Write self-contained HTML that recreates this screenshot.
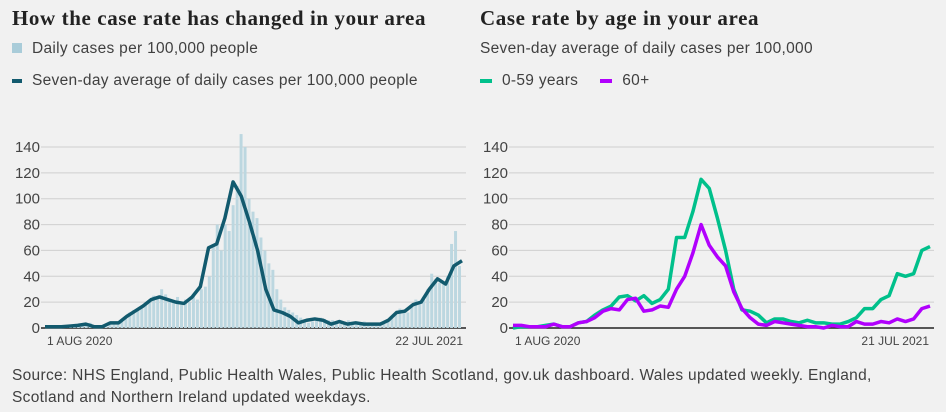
<!DOCTYPE html>
<html><head><meta charset="utf-8"><style>
body{margin:0;background:#f1f1f1;width:946px;height:412px;overflow:hidden;font-family:"Liberation Sans",sans-serif;color:#3f3f42}
.t{position:absolute;font-family:"Liberation Serif",serif;font-weight:bold;font-size:21px;letter-spacing:0.6px;color:#222}
.l{position:absolute;font-size:15.5px;letter-spacing:0.3px;color:#404040}
svg{position:absolute;left:0;top:0}
</style></head><body>
<div class="t" style="left:12px;top:6px">How the case rate has changed in your area</div>
<div class="l" style="left:12px;top:40px"><span style="display:inline-block;width:10px;height:10px;background:#a9ccd9;margin-right:10px"></span>Daily cases per 100,000 people</div>
<div class="l" style="left:12px;top:72px"><span style="display:inline-block;width:10px;height:4px;background:#125a6e;margin-right:10px;vertical-align:middle"></span>Seven-day average of daily cases per 100,000 people</div>
<div class="t" style="left:480px;top:6px">Case rate by age in your area</div>
<div class="l" style="left:480px;top:40px">Seven-day average of daily cases per 100,000</div>
<div class="l" style="left:480px;top:72px"><span style="display:inline-block;width:12px;height:4px;background:#00c08b;margin-right:10px;vertical-align:middle"></span>0-59 years<span style="display:inline-block;width:12px;height:4px;background:#b100fd;margin:0 10px 0 22px;vertical-align:middle"></span>60+</div>
<div class="l" style="left:12px;top:365px;line-height:22px;width:890px">Source: NHS England, Public Health Wales, Public Health Scotland, gov.uk dashboard. Wales updated weekly. England, Scotland and Northern Ireland updated weekdays.</div>
<svg id="s" width="946" height="412"></svg>
<script>
const yTicks=[0,20,40,60,80,100,120,140];
const avgAll=[1,1,1,1.5,2,3,1,1,4,4,9,13,17,22,24,22,20,19,24,32,62,65,85,113,102,82,60,30,14,12,9,4,6,7,6,3,5,3,4,3,3,3,6,12,13,18,20,30,38,34,48,52];
const dailyBars=[1,1,1,2,1,1,2,2,2,3,3,4,1,2,1,1,3,5,4,5,8,12,14,15,16,20,22,25,24,30,26,22,20,24,18,22,20,26,22,30,32,40,65,80,60,80,75,95,110,150,140,100,90,85,70,60,50,45,30,22,16,14,12,10,8,6,4,5,6,8,7,6,6,4,3,5,6,4,3,4,5,3,3,2,4,3,5,8,12,15,14,12,18,22,20,22,30,42,38,35,35,40,65,75,48];
const young=[0,1,1,1,2,3,1,1,4,5,10,14,17,24,25,21,25,19,22,30,70,70,90,115,108,85,60,30,14,13,10,4,7,7,5,4,6,4,4,3,3,5,8,15,15,22,25,42,40,42,60,63];
const old=[2,2,1,1,1,3,1,1,4,5,8,13,15,14,22,23,13,14,17,16,30,40,58,80,64,55,48,28,15,8,3,2,5,4,3,2,1,1,0,2,1,1,5,3,3,5,4,7,5,7,15,17];
const xLabelsL=["1 AUG 2020","22 JUL 2021"],xLabelsR=["1 AUG 2020","21 JUL 2021"];
const NS="http://www.w3.org/2000/svg",s=document.getElementById('s');
function mk(t,a,p){const e=document.createElementNS(NS,t);for(const k in a)e.setAttribute(k,a[k]);(p||s).appendChild(e);return e;}
const y=v=>328-v*(181/140);
function axes(x0,x1,gEnd,labels,prefix){
 yTicks.forEach(v=>{
  const g=mk('line',{x1:x0-4,x2:gEnd,y1:y(v),y2:y(v),stroke:v?'#cfcfcf':'#222','stroke-width':v?1:1.5});
  
  const t=mk('text',{x:x0-5,y:y(v)+5,'text-anchor':'end','font-size':15,fill:'#444'});t.textContent=v;
  
 });
 const a=mk('text',{x:x0+2,y:345,'font-size':12,fill:'#444'});a.textContent=labels[0];
 
 const b=mk('text',{x:x1+1,y:345,'font-size':12,fill:'#444','text-anchor':'end'});b.textContent=labels[1];
 
}
function line(arr,x0,x1,col,name){
 const xs=i=>x0+i*(x1-x0)/(arr.length-1);
 const p=mk('polyline',{points:arr.map((v,i)=>xs(i)+','+y(v)).join(' '),fill:'none',stroke:col,'stroke-width':3.5,'stroke-linejoin':'round'});
 
}
axes(45,462,466,xLabelsL,'left');
const bw=(462-45)/dailyBars.length;
dailyBars.forEach((v,i)=>{
 const r=mk('rect',{x:45+i*bw,y:y(v),width:Math.max(bw-1,1),height:328-y(v),fill:'#bcd7e0'});
 
});
line(avgAll,45,462,'#125a6e','seven-day-average-line');
axes(513,928,934,xLabelsR,'right');
line(young,513,930,'#00c08b','line-0-59');
line(old,513,930,'#b100fd','line-60-plus');
</script>
</body></html>
